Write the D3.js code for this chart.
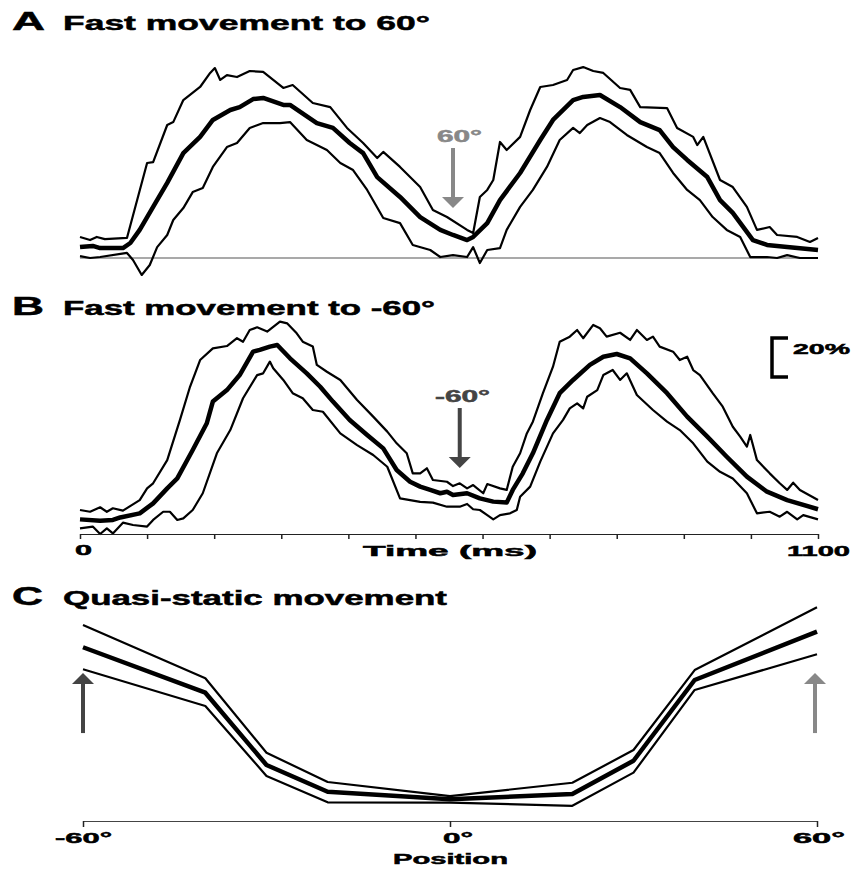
<!DOCTYPE html>
<html>
<head>
<meta charset="utf-8">
<script src="https://cdn.jsdelivr.net/npm/d3@7"></script>
<style>
  body { margin: 0; background: #fff; }
  text { font-family: "Liberation Sans", Arial, sans-serif; font-weight: bold; }
</style>
</head>
<body>
<div class="svg"></div>
<script>
// Panel A: fast movement to 60 deg, [time ms, activity %]
var aUpper = [[0,10.8],[15,9.2],[25,10.8],[37,9.7],[70,10.3],[100,48.7],[109,49.2],[130,68.2],[139,69.7],[154,81.0],[179,87.7],[194,94.9],[201,97.4],[209,91.3],[219,93.8],[234,92.8],[253,95.9],[273,95.4],[303,87.2],[317,88.7],[347,79.5],[373,77.4],[398,66.7],[422,59.0],[443,51.3],[452,54.4],[477,46.7],[507,36.4],[526,24.6],[547,21.0],[577,14.4],[586,12.8],[596,31.3],[607,34.9],[616,40.0],[626,59.5],[636,55.4],[656,62.1],[671,75.9],[686,87.7],[705,88.7],[726,91.3],[735,96.4],[750,97.9],[765,95.9],[780,94.9],[805,87.2],[820,86.2],[835,77.4],[875,76.9],[890,66.7],[914,62.1],[920,57.9],[929,62.1],[954,40.0],[973,36.4],[994,26.2],[1009,14.4],[1028,15.9],[1039,11.8],[1069,10.8],[1088,8.2],[1100,10.3]];
var aMean = [[0,5.6],[19,6.2],[30,5.1],[64,5.1],[75,7.7],[89,14.4],[109,26.2],[130,38.5],[154,53.8],[179,62.1],[198,70.8],[224,75.9],[238,77.4],[258,81.5],[273,82.1],[303,78.5],[313,78.5],[353,69.2],[377,66.7],[402,59.0],[422,53.8],[443,41.5],[477,31.3],[507,21.0],[537,14.4],[556,11.8],[577,9.2],[586,10.8],[607,17.9],[626,29.7],[656,43.6],[686,60.5],[705,70.8],[735,81.0],[750,82.6],[775,83.6],[805,77.4],[835,69.7],[864,65.6],[884,56.9],[905,50.3],[935,41.5],[954,29.7],[973,23.1],[1003,9.2],[1024,6.7],[1054,5.6],[1100,4.1]];
var aLower = [[0,1.0],[15,0],[30,0.5],[70,2.6],[79,-1.0],[92,-8.7],[104,-3.6],[115,5.6],[130,11.8],[139,19.5],[154,25.6],[168,33.8],[183,35.9],[198,46.7],[219,56.9],[234,59.0],[253,66.7],[273,69.2],[298,69.2],[313,69.7],[338,60.5],[368,55.4],[388,48.7],[407,45.1],[428,34.9],[452,20.5],[477,17.9],[496,6.7],[522,4.1],[537,0.5],[556,1.5],[577,0.5],[586,5.6],[596,-2.6],[607,4.1],[626,5.1],[636,14.4],[656,26.2],[675,34.9],[696,46.7],[715,60.5],[735,66.7],[745,64.1],[756,68.2],[775,71.8],[790,69.7],[815,63.1],[845,56.9],[864,53.8],[884,43.6],[905,34.9],[924,29.7],[943,21.0],[964,14.4],[984,10.8],[999,0.5],[1024,0.5],[1039,0],[1054,1.5],[1073,0],[1100,0]];

// Panel B: fast movement to -60 deg
var bUpper = [[0,12.3],[15,11.4],[30,13.7],[40,11.4],[49,13.2],[64,12.0],[89,17.4],[100,23.4],[109,26.0],[130,37.9],[149,58.5],[164,75.5],[179,89.2],[198,95.2],[219,96.4],[234,100.4],[243,98.6],[253,104.6],[264,106.0],[279,103.8],[298,108.9],[309,108.0],[323,102.9],[332,98.6],[347,96.1],[353,86.7],[368,83.2],[388,79.0],[413,68.7],[437,60.2],[458,52.5],[472,46.5],[487,41.4],[496,31.1],[507,31.1],[517,33.7],[526,27.7],[547,26.8],[556,24.6],[566,26.0],[577,23.4],[586,25.1],[601,20.9],[607,25.6],[626,23.4],[636,22.6],[645,34.5],[656,41.4],[666,51.6],[675,57.6],[690,72.2],[705,85.8],[715,98.6],[730,101.2],[741,104.6],[750,100.4],[765,107.2],[775,105.5],[785,101.2],[805,103.2],[820,99.5],[830,104.6],[845,99.5],[854,101.2],[864,96.1],[884,93.5],[894,89.2],[905,90.9],[914,84.1],[924,81.5],[943,72.2],[958,65.3],[973,55.0],[984,49.9],[994,44.8],[999,50.8],[1009,37.9],[1028,31.1],[1043,26.0],[1054,22.6],[1063,26.3],[1073,22.6],[1100,17.4]];
var bMean = [[0,7.5],[30,6.8],[49,7.2],[60,8.5],[89,10.6],[109,15.7],[130,23.4],[145,28.5],[168,43.1],[189,56.8],[198,67.9],[219,73.8],[238,81.5],[258,93.5],[268,94.4],[283,96.1],[294,96.9],[313,90.1],[338,82.4],[358,75.5],[377,67.9],[402,58.5],[428,50.8],[452,43.9],[472,32.8],[492,26.8],[507,24.3],[522,22.6],[537,20.9],[547,21.7],[556,20.0],[577,20.9],[596,18.3],[616,16.6],[636,16.1],[645,22.6],[660,31.1],[675,41.4],[696,58.5],[715,72.2],[735,79.0],[760,86.7],[780,90.9],[800,92.3],[820,90.1],[845,82.4],[875,72.2],[905,60.2],[935,49.9],[964,39.6],[994,29.4],[1024,21.7],[1054,17.4],[1100,12.7]];
var bLower = [[0,2.9],[19,3.8],[30,0],[40,2.9],[49,0.3],[64,5.8],[79,4.6],[100,3.8],[109,7.2],[124,11.4],[134,11.4],[145,7.2],[154,8.0],[168,12.3],[183,20.9],[204,41.4],[224,53.3],[243,69.6],[264,81.5],[273,82.4],[283,88.4],[288,85.0],[303,79.0],[317,72.2],[332,69.6],[347,63.6],[362,62.7],[388,51.6],[413,45.6],[437,40.5],[458,34.5],[477,18.3],[492,17.4],[507,16.5],[526,16.1],[547,14.0],[566,14.0],[577,15.4],[586,12.7],[596,12.3],[607,9.7],[616,7.5],[626,9.7],[641,10.6],[651,12.3],[656,19.1],[671,24.3],[686,37.1],[705,51.6],[720,58.5],[730,64.4],[741,67.0],[750,64.4],[756,70.4],[771,73.8],[780,81.5],[794,84.1],[805,79.0],[815,82.4],[830,71.3],[854,63.6],[875,57.6],[894,53.3],[914,46.5],[935,37.1],[954,31.9],[973,28.5],[994,20.9],[1009,10.6],[1028,11.4],[1043,8.9],[1054,11.4],[1069,7.5],[1078,9.7],[1100,7.5]];

// Panel C: quasi-static movement
var cPositions = [-60, -40, -30, -20, 0, 20, 30, 40, 60];
var cUpper = [100.5, 73.2, 35.0, 20.0, 12.8, 19.6, 36.4, 77.4, 109.6];
var cMean = [89.1, 65.8, 28.7, 15.0, 11.1, 13.8, 30.9, 72.3, 97.1];
var cLower = [77.8, 59.0, 23.1, 9.6, 9.4, 7.8, 24.8, 67.2, 85.5];

var timeTicks = [0, 100, 200, 300, 400, 500, 600, 700, 800, 900, 1000, 1100];
var posTicks = [-60, 0, 60];

var W = 854, H = 870;
var svg = d3.select('div.svg').append('svg')
  .attr('width', W)
  .attr('height', H);

var x = d3.scaleLinear().domain([0, 1100]).range([80, 818]);
var yA = d3.scaleLinear().domain([0, 100]).range([258, 63]);
var yB = d3.scaleLinear().domain([0, 100]).range([534, 339]);
var xC = d3.scaleLinear().domain([-60, 60]).range([83, 817]);
var yC = d3.scaleLinear().domain([0, 100]).range([821, 626]);

// stretched bold label, the original uses a very wide heavy face
function label(str, px, py, size, len, color) {
  return svg.append('text')
    .attr('x', px).attr('y', py)
    .attr('font-size', size)
    .attr('textLength', len)
    .attr('lengthAdjust', 'spacingAndGlyphs')
    .style('fill', color || '#000')
    .style('stroke', color || '#000')
    .style('stroke-width', 0.5)
    .text(str);
}

function trace(data, xs, ys, width) {
  var line = d3.line()
    .x(function (d) { return xs(d[0]); })
    .y(function (d) { return ys(d[1]); });
  svg.append('path')
    .datum(data)
    .attr('d', line)
    .style('fill', 'none')
    .style('stroke', '#000')
    .style('stroke-width', width)
    .style('stroke-linejoin', 'round');
}

function arrow(px, yTail, yTip, color) {
  var dir = yTip > yTail ? 1 : -1;
  var base = yTip - dir * 11;
  svg.append('line')
    .attr('x1', px).attr('x2', px)
    .attr('y1', yTail).attr('y2', base)
    .style('stroke', color)
    .style('stroke-width', 4);
  svg.append('path')
    .attr('d', 'M' + (px - 11) + ',' + base + 'L' + (px + 11) + ',' + base + 'L' + px + ',' + yTip + 'Z')
    .style('fill', color);
}

// ---- A ----
label('A', 12, 30, 25, 33);
label('Fast movement to 60°', 63, 30, 21, 367);
svg.append('line')
  .attr('x1', x(0)).attr('x2', x(1100))
  .attr('y1', yA(0)).attr('y2', yA(0))
  .style('stroke', '#555').style('stroke-width', 1.2);
trace(aUpper, x, yA, 2.2);
trace(aLower, x, yA, 2.2);
trace(aMean, x, yA, 4.5);
arrow(x(556), yA(56.4), yA(25.6), '#888');
label('60°', 437, 142, 16, 45, '#888');

// ---- B ----
label('B', 12, 315, 25, 32);
label('Fast movement to -60°', 63, 315, 21, 372);
trace(bUpper, x, yB, 2.2);
trace(bLower, x, yB, 2.2);
trace(bMean, x, yB, 4.5);
arrow(x(566), yB(64.6), yB(33.8), '#444');
label('-60°', 435, 402, 16, 55, '#444');

var axB = svg.append('g')
  .attr('transform', 'translate(0,' + yB(0) + ')')
  .call(d3.axisBottom(x).tickValues(timeTicks).tickSize(5).tickSizeOuter(0).tickFormat(''));
axB.select('.domain').style('stroke', '#222').style('stroke-width', 1.2);
axB.selectAll('.tick line').style('stroke', '#222').style('stroke-width', 1.5);
label('0', 75, 555, 15, 17);
label('1100', 787, 556, 15, 63);
label('Time (ms)', 363, 556, 15, 174);

// scale bar 20%
var sb = svg.append('g');
sb.append('path')
  .attr('d', 'M788,' + yB(100.5) + 'H772V' + yB(80.5) + 'H788')
  .style('fill', 'none')
  .style('stroke', '#000')
  .style('stroke-width', 3.5);
label('20%', 793, 354, 15, 57);

// ---- C ----
label('C', 12, 605, 25, 31);
label('Quasi-static movement', 63, 605, 21, 384);
var cu = cPositions.map(function (p, i) { return [p, cUpper[i]]; });
var cm = cPositions.map(function (p, i) { return [p, cMean[i]]; });
var cl = cPositions.map(function (p, i) { return [p, cLower[i]]; });
trace(cu, xC, yC, 2.2);
trace(cl, xC, yC, 2.2);
trace(cm, xC, yC, 4.5);
arrow(xC(-60), yC(45.1), yC(75.9), '#444');
arrow(xC(60) - 2, yC(45.1), yC(75.9), '#888');

var axC = svg.append('g')
  .attr('transform', 'translate(0,' + yC(0) + ')')
  .call(d3.axisBottom(xC).tickValues(posTicks).tickSize(6).tickSizeOuter(0).tickFormat(''));
axC.select('.domain').style('stroke', '#444').style('stroke-width', 1.2);
axC.selectAll('.tick line').style('stroke', '#222').style('stroke-width', 1.5);
label('-60°', 55, 843, 15, 57);
label('0°', 443, 843, 15, 30);
label('60°', 793, 843, 15, 52);
label('Position', 393, 864, 15, 115);
</script>
</body>
</html>
